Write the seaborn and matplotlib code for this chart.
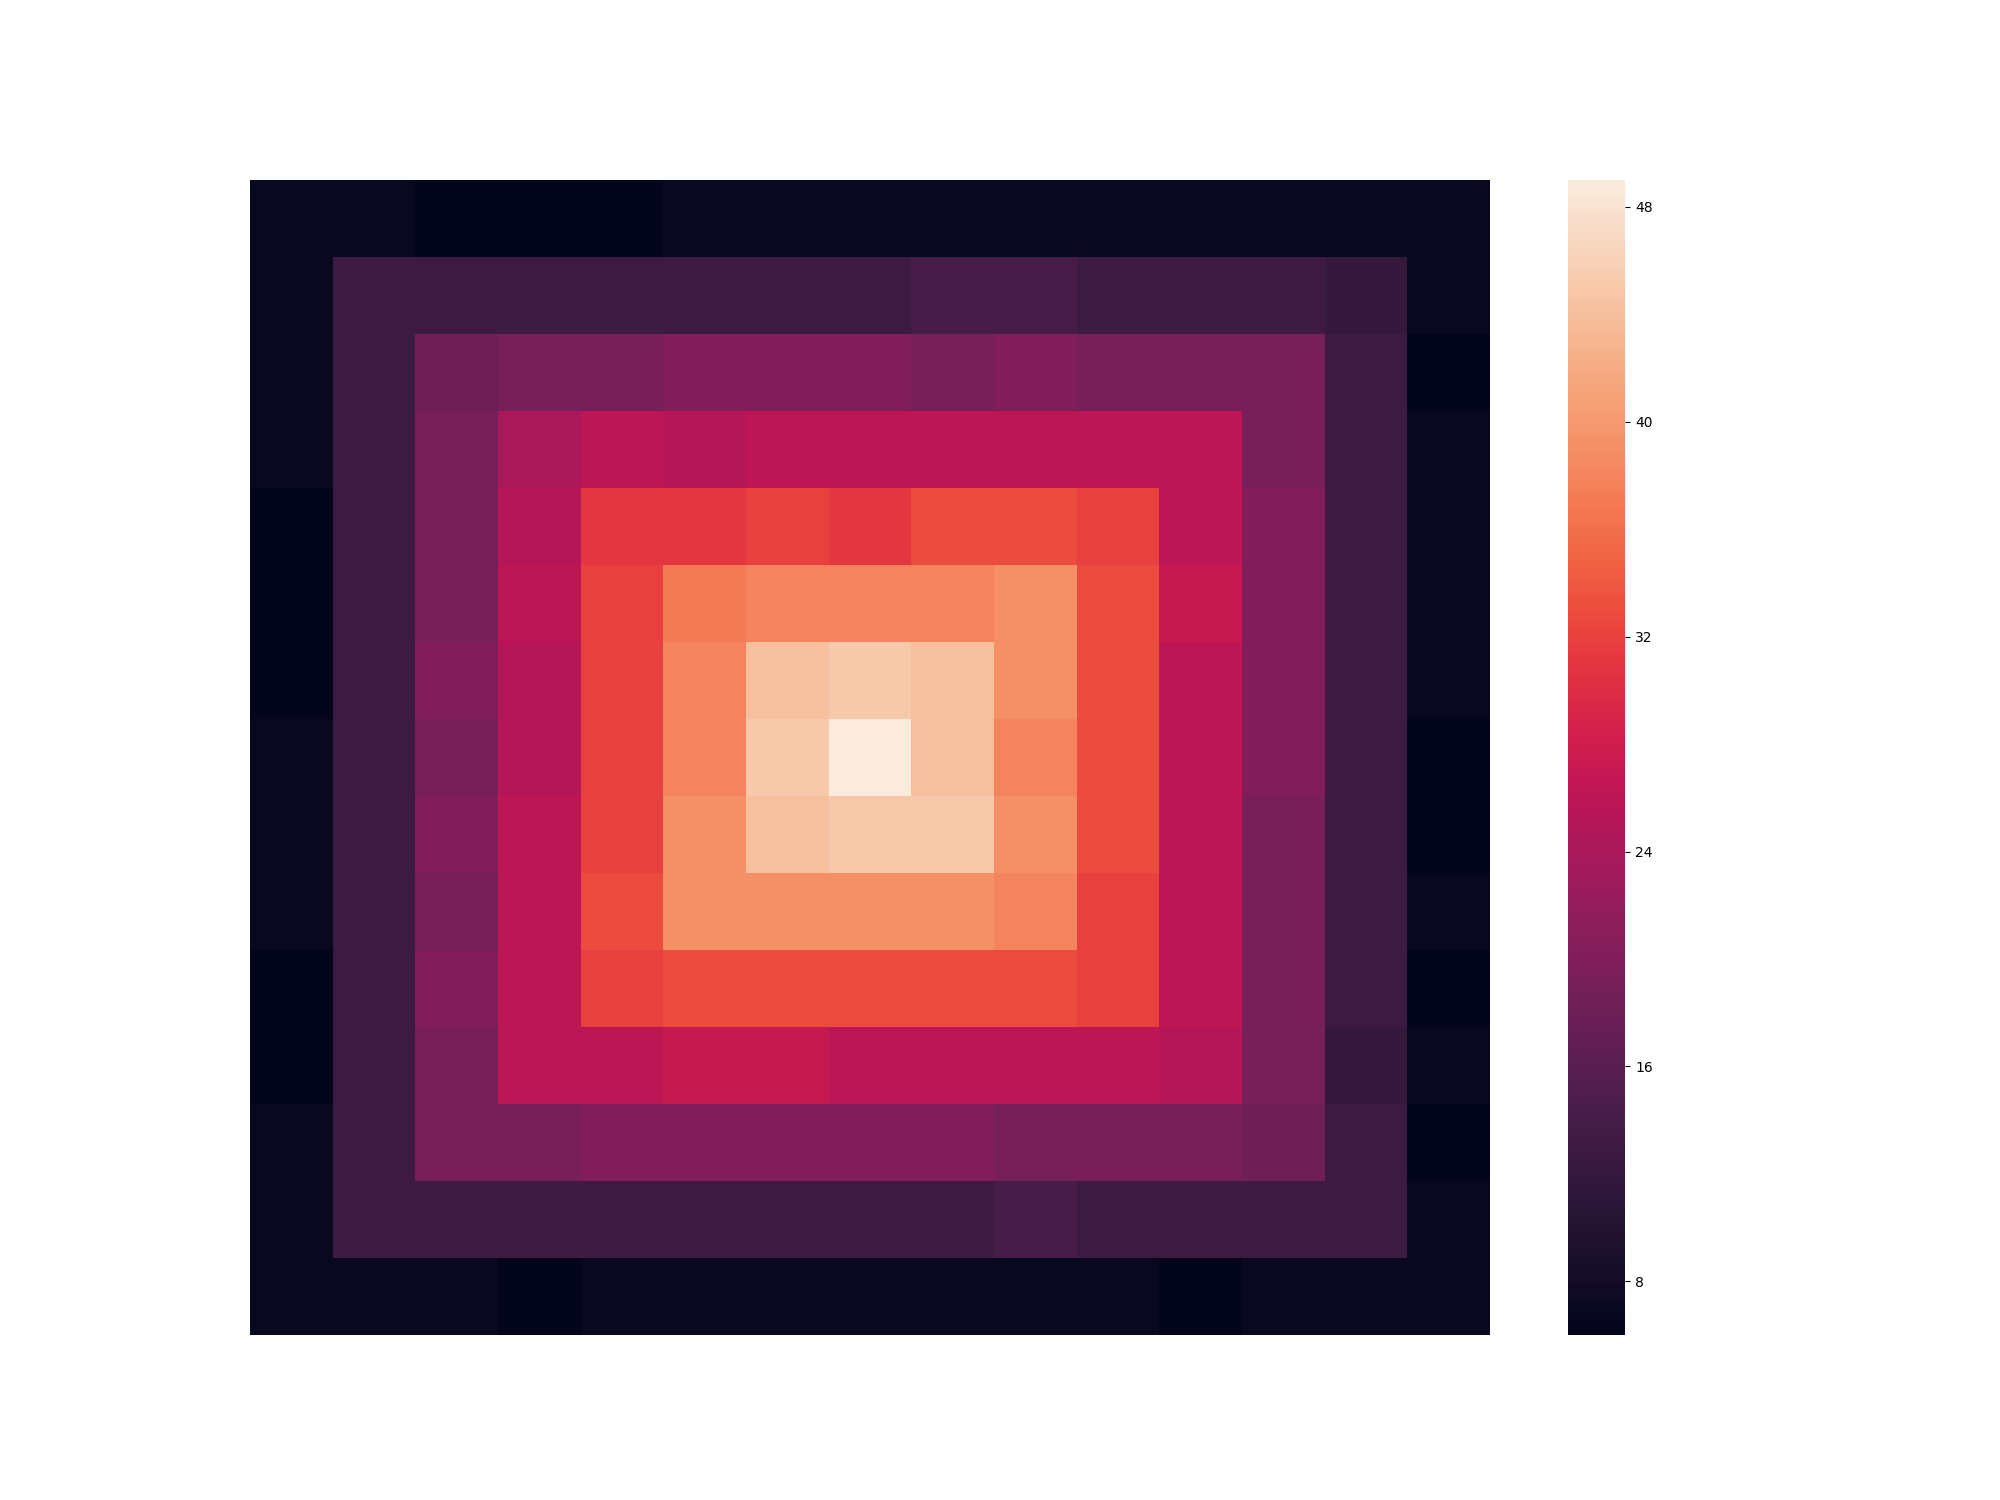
import numpy as np
import matplotlib
matplotlib.use("Agg")
import matplotlib.pyplot as plt
import seaborn as sns

# one list per heatmap row, top to bottom
row_00 = [7, 7, 6, 6, 6, 7, 7, 7, 7, 7, 7, 7, 7, 7, 7]
row_01 = [7, 13, 13, 13, 13, 13, 13, 13, 14, 14, 13, 13, 13, 12, 7]
row_02 = [7, 13, 18, 19, 19, 20, 20, 20, 19, 20, 19, 19, 19, 13, 6]
row_03 = [7, 13, 19, 24, 26, 25, 26, 26, 26, 26, 26, 26, 19, 13, 7]
row_04 = [6, 13, 19, 25, 31, 31, 32, 31, 33, 33, 32, 26, 20, 13, 7]
row_05 = [6, 13, 19, 26, 32, 37, 38, 38, 38, 39, 33, 27, 20, 13, 7]
row_06 = [6, 13, 20, 25, 32, 38, 44, 45, 44, 39, 33, 26, 20, 13, 7]
row_07 = [7, 13, 19, 25, 32, 38, 45, 49, 44, 38, 33, 26, 20, 13, 6]
row_08 = [7, 13, 20, 26, 32, 39, 44, 45, 45, 39, 33, 26, 19, 13, 6]
row_09 = [7, 13, 19, 26, 33, 39, 39, 39, 39, 38, 32, 26, 19, 13, 7]
row_10 = [6, 13, 20, 26, 32, 33, 33, 33, 33, 33, 32, 26, 19, 13, 6]
row_11 = [6, 13, 19, 26, 26, 27, 27, 26, 26, 26, 26, 25, 19, 12, 7]
row_12 = [7, 13, 19, 19, 20, 20, 20, 20, 20, 19, 19, 19, 18, 13, 6]
row_13 = [7, 13, 13, 13, 13, 13, 13, 13, 13, 14, 13, 13, 13, 13, 7]
row_14 = [7, 7, 7, 6, 7, 7, 7, 7, 7, 7, 7, 6, 7, 7, 7]

cbar_ticks = [8, 16, 24, 32, 40, 48]

grid = np.array([row_00, row_01, row_02, row_03, row_04, row_05, row_06, row_07,
                 row_08, row_09, row_10, row_11, row_12, row_13, row_14])

fig, ax = plt.subplots(figsize=(20, 15), dpi=100)
sns.heatmap(grid, cmap="rocket", xticklabels=False, yticklabels=False, ax=ax,
            cbar_kws={"ticks": cbar_ticks})
plt.savefig("out.png", dpi=100)
